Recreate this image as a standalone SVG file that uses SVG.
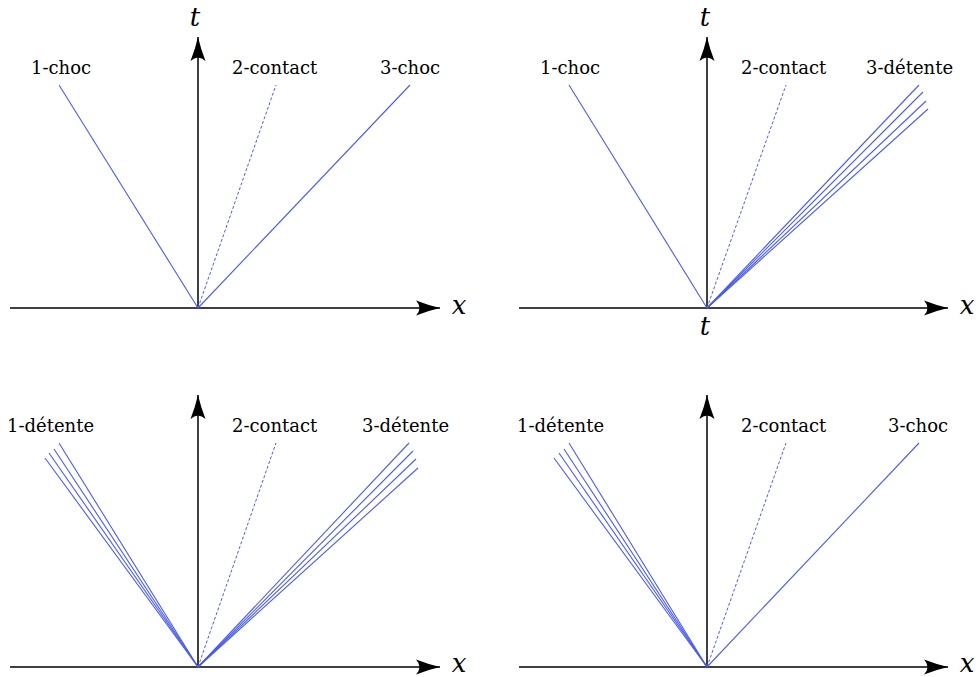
<svg xmlns="http://www.w3.org/2000/svg" width="979" height="677" viewBox="0 0 979 677">
<defs>
<marker id="ah" markerUnits="userSpaceOnUse" markerWidth="30" markerHeight="20" viewBox="-26 -10 30 20" refX="0" refY="0" orient="auto">
<path d="M0,0 Q-11,-2.5 -24,-7.5 Q-17,0 -24,7.5 Q-11,2.5 0,0 Z" fill="#000"/>
</marker>
</defs>
<style>
.ax{stroke:#000;stroke-width:1.5;fill:none;marker-end:url(#ah)}
.w{stroke:#4a5cec;stroke-width:1.1;fill:none}
.d{stroke:#4a5cec;stroke-width:1;fill:none;stroke-dasharray:3 2}
.lb{font-family:'DejaVu Serif',serif;font-size:18px;fill:#000}
.m{font-family:'DejaVu Serif',serif;font-style:italic;font-size:26px;fill:#000;text-anchor:middle}
</style>
<g id="panel1">
<g class="connectors">
<line class="ax" x1="10" y1="308" x2="440" y2="308"/>
<line class="ax" x1="198" y1="308" x2="198" y2="37"/>
<line class="w" x1="198" y1="308" x2="59" y2="85"/>
<line class="d" x1="198" y1="308" x2="276" y2="85"/>
<line class="w" x1="198" y1="308" x2="410" y2="85"/>
</g>
<text class="m" x="459" y="314">x</text>
<text class="m" x="195" y="26">t</text>
<text class="lb" x="31" y="74">1-choc</text>
<text class="lb" x="232" y="74">2-contact</text>
<text class="lb" x="380" y="74">3-choc</text>
</g>
<g id="panel2">
<g class="connectors">
<line class="ax" x1="519" y1="308" x2="948" y2="308"/>
<line class="ax" x1="707" y1="308" x2="707" y2="37"/>
<line class="w" x1="707" y1="308" x2="569" y2="85"/>
<line class="d" x1="707" y1="308" x2="786" y2="85"/>
<line class="w" x1="707" y1="308" x2="919" y2="85"/>
<line class="w" x1="707" y1="308" x2="923" y2="92"/>
<line class="w" x1="707" y1="308" x2="926" y2="101"/>
<line class="w" x1="707" y1="308" x2="928" y2="109"/>
</g>
<text class="m" x="967" y="314">x</text>
<text class="m" x="705" y="26">t</text>
<text class="m" x="705" y="335">t</text>
<text class="lb" x="540" y="74">1-choc</text>
<text class="lb" x="741" y="74">2-contact</text>
<text class="lb" x="866" y="74">3-détente</text>
</g>
<g id="panel3">
<g class="connectors">
<line class="ax" x1="10" y1="667" x2="440" y2="667"/>
<line class="ax" x1="198" y1="667" x2="198" y2="395"/>
<line class="w" x1="198" y1="667" x2="59" y2="443"/>
<line class="w" x1="198" y1="667" x2="54" y2="449"/>
<line class="w" x1="198" y1="667" x2="49" y2="453"/>
<line class="w" x1="198" y1="667" x2="45" y2="458"/>
<line class="d" x1="198" y1="667" x2="276" y2="443"/>
<line class="w" x1="198" y1="667" x2="409" y2="443"/>
<line class="w" x1="198" y1="667" x2="413" y2="451"/>
<line class="w" x1="198" y1="667" x2="416" y2="459"/>
<line class="w" x1="198" y1="667" x2="418" y2="468"/>
</g>
<text class="m" x="459" y="672">x</text>
<text class="lb" x="7" y="432">1-détente</text>
<text class="lb" x="362" y="432">3-détente</text>
<text class="lb" x="232" y="432">2-contact</text>
</g>
<g id="panel4">
<g class="connectors">
<line class="ax" x1="519" y1="667" x2="948" y2="667"/>
<line class="ax" x1="707" y1="667" x2="707" y2="395"/>
<line class="w" x1="707" y1="667" x2="569" y2="443"/>
<line class="w" x1="707" y1="667" x2="564" y2="449"/>
<line class="w" x1="707" y1="667" x2="559" y2="453"/>
<line class="w" x1="707" y1="667" x2="554" y2="458"/>
<line class="d" x1="707" y1="667" x2="786" y2="443"/>
<line class="w" x1="707" y1="667" x2="919" y2="443"/>
</g>
<text class="m" x="967" y="672">x</text>
<text class="lb" x="517" y="432">1-détente</text>
<text class="lb" x="741" y="432">2-contact</text>
<text class="lb" x="888" y="432">3-choc</text>
</g>
</svg>
